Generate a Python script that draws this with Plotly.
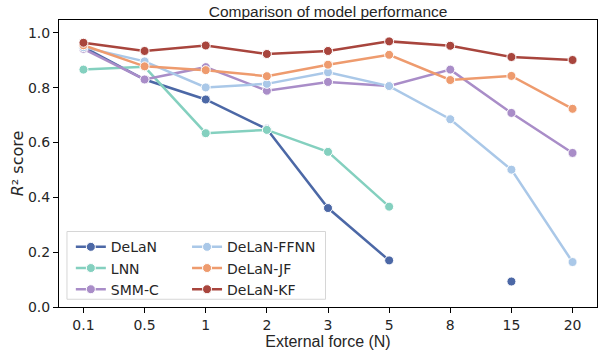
import plotly.graph_objects as go

forces = ["0.1", "0.5", "1", "2", "3", "5", "8", "15", "20"]

delan = [0.948, 0.830, 0.757, 0.649, 0.361, 0.170, None, 0.093, None]
lnn = [0.866, 0.876, 0.634, 0.646, 0.566, 0.366, None, None, None]
smm_c = [0.942, 0.830, 0.875, 0.789, 0.821, 0.806, 0.866, 0.708, 0.562]
delan_ffnn = [0.948, 0.896, 0.801, 0.814, 0.856, 0.806, 0.685, 0.501, 0.164]
delan_jf = [0.955, 0.878, 0.864, 0.842, 0.884, 0.920, 0.828, 0.843, 0.723]
delan_kf = [0.964, 0.934, 0.954, 0.923, 0.934, 0.969, 0.953, 0.912, 0.901]

series = [
    ("DeLaN", delan, "#4c68a6", "legend", 1),
    ("LNN", lnn, "#84d0bf", "legend", 2),
    ("SMM-C", smm_c, "#a98dc8", "legend", 3),
    ("DeLaN-FFNN", delan_ffnn, "#aac8e8", "legend2", 4),
    ("DeLaN-JF", delan_jf, "#ee9b6e", "legend2", 5),
    ("DeLaN-KF", delan_kf, "#a8453d", "legend2", 6),
]

ARIAL = "Liberation Sans, Arial, sans-serif"
DEJAVU = "DejaVu Sans, sans-serif"
TXT = "#262626"

fig = go.Figure()
for name, vals, color, leg, rank in series:
    fig.add_trace(go.Scatter(
        x=forces, y=vals, name=name, mode="lines+markers",
        line=dict(color=color, width=2.5),
        marker=dict(color=color, size=9, line=dict(color="white", width=1)),
        connectgaps=False, legend=leg, legendrank=rank,
    ))

fig.update_layout(
    width=602, height=352,
    margin=dict(l=59, r=4, t=20, b=42),
    plot_bgcolor="white", paper_bgcolor="white",
    font=dict(family=DEJAVU, size=14, color=TXT),
    title=dict(text="Comparison of model performance", x=0.545, xanchor="center",
               y=0.968, yanchor="middle", yref="container",
               font=dict(family=ARIAL, size=15.5, color=TXT)),
    showlegend=True,
    legend=dict(x=0.022, y=0.264, xanchor="left", yanchor="top",
                bgcolor="rgba(0,0,0,0)", borderwidth=0,
                font=dict(family=DEJAVU, size=14, color=TXT),
                tracegroupgap=0, itemwidth=30),
    legend2=dict(x=0.238, y=0.264, xanchor="left", yanchor="top",
                 bgcolor="rgba(0,0,0,0)", borderwidth=0,
                 font=dict(family=DEJAVU, size=14, color=TXT),
                 tracegroupgap=0, itemwidth=30),
    shapes=[dict(type="rect", xref="paper", yref="paper",
                 x0=0.0148, x1=0.4954, y0=0.027, y1=0.263,
                 line=dict(color="#d6d6d6", width=1),
                 fillcolor="rgba(255,255,255,0.8)", layer="above")],
)

fig.update_xaxes(
    type="category", range=[-0.4, 8.4],
    showline=True, linecolor="black", linewidth=1, mirror=True,
    ticks="outside", ticklen=5, tickwidth=1, tickcolor="black",
    showgrid=False, zeroline=False,
    tickfont=dict(family=DEJAVU, size=14, color=TXT),
    title=dict(text="External force (N)", standoff=4,
               font=dict(family=ARIAL, size=16, color=TXT)),
)
fig.update_yaxes(
    range=[0, 1.047], tickvals=[0, 0.2, 0.4, 0.6, 0.8, 1.0], tickformat=".1f",
    showline=True, linecolor="black", linewidth=1, mirror=True,
    ticks="outside", ticklen=5, tickwidth=1, tickcolor="black",
    showgrid=False, zeroline=False,
    tickfont=dict(family=DEJAVU, size=14, color=TXT),
    title=dict(text="<i>R</i>² score", standoff=0,
               font=dict(family=DEJAVU, size=16, color=TXT)),
)

fig.write_html("out.html")
